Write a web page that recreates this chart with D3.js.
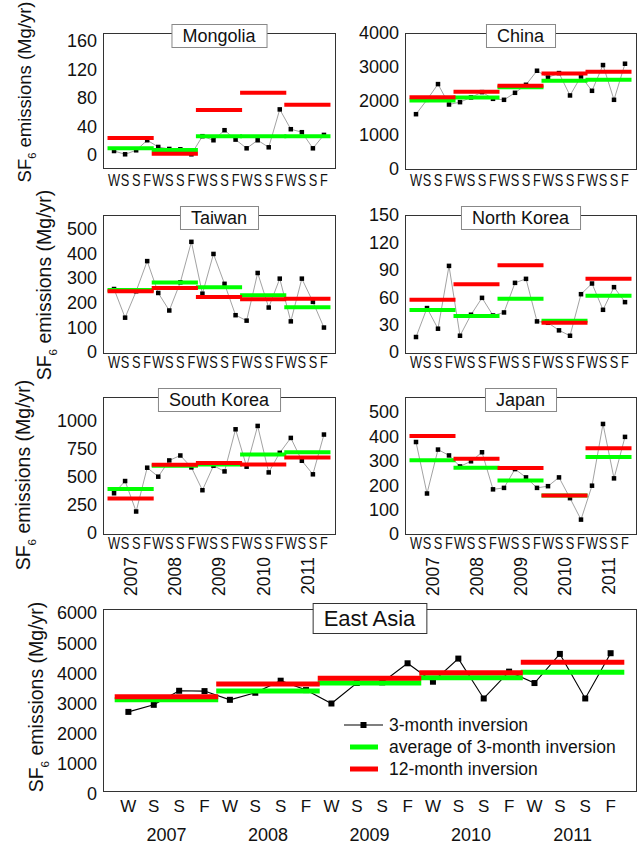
<!DOCTYPE html>
<html>
<head>
<meta charset="utf-8">
<script src="https://cdn.jsdelivr.net/npm/d3@7"></script>
<style>
  body { margin: 0; background: #fff; }
  svg { display: block; }
  text { font-family: "Liberation Sans", Arial, sans-serif; fill: #111; }
</style>
</head>
<body>
<svg id="chart" width="637" height="845"></svg>
<script>
// ---- data: SF6 emissions (Mg/yr), seasonal (3-month) and annual inversions ----
const seasons = ["W", "S", "S", "F"];
const years = ["2007", "2008", "2009", "2010", "2011"];

const mongolia3m  = [5.6, 1, 6.6, 20.7, 11.3, 8.5, 8, 1, 26.4, 20.7, 34.8, 21.6, 9.4, 20.7, 10.8, 64, 36.2, 32, 9.4, 28.2];
const mongoliaAvg = [9.4, 7, 26.4, 26.4, 26.4];
const mongolia12m = [24, 1.9, 63, 87.5, 70.6];
const mongoliaTicks = [0, 40, 80, 120, 160];

const china3m  = [1612, 2035, 2497, 1897, 1966, 2104, 2261, 2064, 2035, 2241, 2477, 2890, 2693, 2821, 2163, 2723, 2300, 3057, 2035, 3096];
const chinaAvg = [2015, 2104, 2408, 2595, 2625];
const china12m = [2113, 2271, 2448, 2811, 2860];
const chinaTicks = [0, 1000, 2000, 3000, 4000];

const taiwan3m  = [255, 139, 246, 368, 239, 168, 282, 446, 236, 397, 276, 149, 127, 320, 180, 297, 124, 297, 203, 99];
const taiwanAvg = [251, 281, 262, 230, 181];
const taiwan12m = [246, 259, 223, 214, 216];
const taiwanTicks = [0, 100, 200, 300, 400, 500];

const northKorea3m  = [16.4, 48.1, 25.5, 94.3, 17.8, 40.8, 59.3, 40, 43.3, 75.7, 80.1, 33.5, 32, 23.7, 17.8, 63.3, 75, 46.2, 71, 54.6];
const northKoreaAvg = [45.9, 39.3, 58.2, 34.2, 61.5];
const northKorea12m = [57.2, 74.3, 95, 32, 80.1];
const northKoreaTicks = [0, 30, 60, 90, 120, 150];

const southKorea3m  = [355, 464, 192, 583, 503, 648, 692, 586, 382, 601, 550, 926, 592, 956, 541, 716, 849, 645, 524, 879];
const southKoreaAvg = [393, 601, 612, 701, 722];
const southKorea12m = [308, 609, 624, 612, 675];
const southKoreaTicks = [0, 250, 500, 750, 1000];

const japan3m  = [377, 166, 346, 322, 277, 298, 335, 183, 189, 266, 232, 189, 196, 232, 147, 59, 198, 451, 228, 398];
const japanAvg = [302, 272, 219, 158, 316];
const japan12m = [402, 308, 271, 158, 351];
const japanTicks = [0, 100, 200, 300, 400, 500];

const eastAsia3m  = [2722, 2956, 3422, 3411, 3122, 3356, 3756, 3444, 3000, 3680, 3700, 4333, 3722, 4489, 3167, 4056, 3678, 4644, 3167, 4667];
const eastAsiaAvg = [3122, 3411, 3678, 3856, 4033];
const eastAsia12m = [3222, 3644, 3833, 4022, 4367];
const eastAsiaTicks = [0, 1000, 2000, 3000, 4000, 5000, 6000];

const legendLabels = ["3-month inversion", "average of 3-month inversion", "12-month inversion"];
const yTitleText = ["SF", "6", " emissions (Mg/yr)"];

// ---- layout ----
const GREEN = "#00ff00", RED = "#ff0000";
const periods = d3.range(seasons.length * years.length);

const panels = [
  { name: "Mongolia",    q: mongolia3m,   avg: mongoliaAvg,   ann: mongolia12m,   ticks: mongoliaTicks,
    box: [103, 33, 335, 168],  y0: 155, yTop: 41,    labelY: 180, big: false, yearLabels: false },
  { name: "China",       q: china3m,      avg: chinaAvg,      ann: china12m,      ticks: chinaTicks,
    box: [405, 33, 636, 169],  y0: 169, yTop: 33,    labelY: 180, big: false, yearLabels: false },
  { name: "Taiwan",      q: taiwan3m,     avg: taiwanAvg,     ann: taiwan12m,     ticks: taiwanTicks,
    box: [103, 215, 335, 353], y0: 352, yTop: 228.5, labelY: 362, big: false, yearLabels: false },
  { name: "North Korea", q: northKorea3m, avg: northKoreaAvg, ann: northKorea12m, ticks: northKoreaTicks,
    box: [405, 215, 636, 353], y0: 352, yTop: 215,   labelY: 362, big: false, yearLabels: false },
  { name: "South Korea", q: southKorea3m, avg: southKoreaAvg, ann: southKorea12m, ticks: southKoreaTicks,
    box: [103, 397, 335, 534], y0: 533, yTop: 421,   labelY: 543, big: false, yearLabels: true },
  { name: "Japan",       q: japan3m,      avg: japanAvg,      ann: japan12m,      ticks: japanTicks,
    box: [405, 397, 636, 534], y0: 534, yTop: 412,   labelY: 543, big: false, yearLabels: true },
  { name: "East Asia",   q: eastAsia3m,   avg: eastAsiaAvg,   ann: eastAsia12m,   ticks: eastAsiaTicks,
    box: [103, 609, 636, 791], y0: 794, yTop: 613,   labelY: 806, big: true,  yearLabels: false }
];

const svg = d3.select("#chart");
svg.append("rect").attr("width", 637).attr("height", 845).attr("fill", "#fff");

panels.forEach(p => {
  const [x0, y0, x1, y1] = p.box;
  const g = svg.append("g");
  const x = d3.scalePoint().domain(periods).range([x0, x1]).padding(1);
  const y = d3.scaleLinear().domain([0, d3.max(p.ticks)]).range([p.y0, p.yTop]);
  const step = x.step();

  // plot frame
  g.append("rect")
    .attr("x", x0 + 0.5).attr("y", y0 + 0.5)
    .attr("width", x1 - x0).attr("height", y1 - y0)
    .attr("fill", "none").attr("stroke", "#333").attr("stroke-width", 1);

  // seasonal series
  g.append("path")
    .datum(p.q)
    .attr("fill", "none")
    .attr("stroke", p.big ? "#000" : "#8a8a8a")
    .attr("stroke-width", p.big ? 1.1 : 0.8)
    .attr("d", d3.line().x((d, i) => x(i)).y(d => y(d)));

  const ms = p.big ? 6 : 4.5;
  g.selectAll("rect.pt").data(p.q).join("rect")
    .attr("class", "pt")
    .attr("x", (d, i) => x(i) - ms / 2).attr("y", d => y(d) - ms / 2)
    .attr("width", ms).attr("height", ms).attr("fill", "#000");

  // annual segments: average (green) beneath 12-month inversion (red)
  const lw = p.big ? 5 : 4;
  const seg = (vals, color) => g.selectAll(null).data(vals).join("line")
    .attr("x1", (d, j) => x(j * 4) - step / 2 - 1)
    .attr("x2", (d, j) => x(j * 4 + 3) + step / 2 + 1)
    .attr("y1", d => y(d)).attr("y2", d => y(d))
    .attr("stroke", color).attr("stroke-width", lw);
  seg(p.avg, GREEN);
  seg(p.ann, RED);

  // y tick labels
  g.selectAll("text.yt").data(p.ticks).join("text")
    .attr("class", "yt")
    .attr("x", x0 - 6).attr("y", d => y(d))
    .attr("dy", "0.36em")
    .attr("text-anchor", "end")
    .style("font-size", "18px")
    .text(d => d);

  // season labels
  g.selectAll("text.xs").data(periods).join("text")
    .attr("class", "xs")
    .attr("text-anchor", "middle")
    .attr("transform", i => p.big
      ? `translate(${x(i)},${p.labelY + 6})`
      : `translate(${x(i)},${p.labelY + 5.7}) scale(0.8,1)`)
    .style("font-size", p.big ? "17px" : "16px")
    .text(i => seasons[i % 4]);

  // year labels
  const yearCenter = j => (x(j * 4) + x(j * 4 + 3)) / 2;
  if (p.big) {
    g.selectAll("text.yr").data(years).join("text")
      .attr("class", "yr")
      .attr("x", (d, j) => yearCenter(j)).attr("y", 841)
      .attr("text-anchor", "middle")
      .style("font-size", "18px")
      .text(d => d);
  } else if (p.yearLabels) {
    g.selectAll("text.yr").data(years).join("text")
      .attr("class", "yr")
      .attr("transform", (d, j) => `translate(${yearCenter(j)},557) rotate(-90)`)
      .attr("dy", "0.36em")
      .attr("text-anchor", "end")
      .style("font-size", "17.5px")
      .text(d => d);
  }

  // title box straddling the top border
  const fs = p.big ? 22 : 18;
  const cx = (x0 + x1) / 2;
  const title = g.append("text")
    .attr("x", cx).attr("text-anchor", "middle")
    .style("font-size", fs + "px")
    .text(p.name);
  const tw = title.node().getComputedTextLength();
  const padX = 11;
  const bh = p.big ? 30 : 23;
  const by = p.big ? y0 - 6 : y0 - 9;
  g.insert("rect", () => title.node())
    .attr("x", cx - tw / 2 - padX + 0.5).attr("y", by + 0.5)
    .attr("width", tw + 2 * padX).attr("height", bh)
    .attr("fill", "#fff").attr("stroke", p.big ? "#333" : "#888").attr("stroke-width", 1);
  title.attr("y", by + bh / 2 + fs * 0.36);
});

// y-axis titles
function yTitle(cx, cy, fs) {
  const t = svg.append("text")
    .attr("transform", `translate(${cx},${cy}) rotate(-90)`)
    .attr("y", fs * 0.36)
    .attr("text-anchor", "middle")
    .style("font-size", fs + "px");
  t.append("tspan").text(yTitleText[0]);
  t.append("tspan").attr("dy", fs * 0.3).style("font-size", (fs * 0.6) + "px").text(yTitleText[1]);
  t.append("tspan").attr("dy", -fs * 0.3).text(yTitleText[2]);
}
yTitle(24, 92, 18.5);
yTitle(44, 285, 19.5);
yTitle(23, 475, 19.5);
yTitle(36, 697, 19.5);

// legend inside the East Asia panel
const leg = svg.append("g");
const legY = [725, 747, 769];
leg.append("line").attr("x1", 344).attr("x2", 383).attr("y1", legY[0]).attr("y2", legY[0])
  .attr("stroke", "#000").attr("stroke-width", 1.1);
leg.append("rect").attr("x", 363.5 - 3).attr("y", legY[0] - 3).attr("width", 6).attr("height", 6).attr("fill", "#000");
leg.append("line").attr("x1", 350).attr("x2", 378).attr("y1", legY[1]).attr("y2", legY[1])
  .attr("stroke", GREEN).attr("stroke-width", 5);
leg.append("line").attr("x1", 350).attr("x2", 378).attr("y1", legY[2]).attr("y2", legY[2])
  .attr("stroke", RED).attr("stroke-width", 5);
leg.selectAll("text").data(legendLabels).join("text")
  .attr("x", 389).attr("y", (d, i) => legY[i])
  .attr("dy", "0.36em")
  .style("font-size", "17.5px")
  .text(d => d);
</script>
</body>
</html>
